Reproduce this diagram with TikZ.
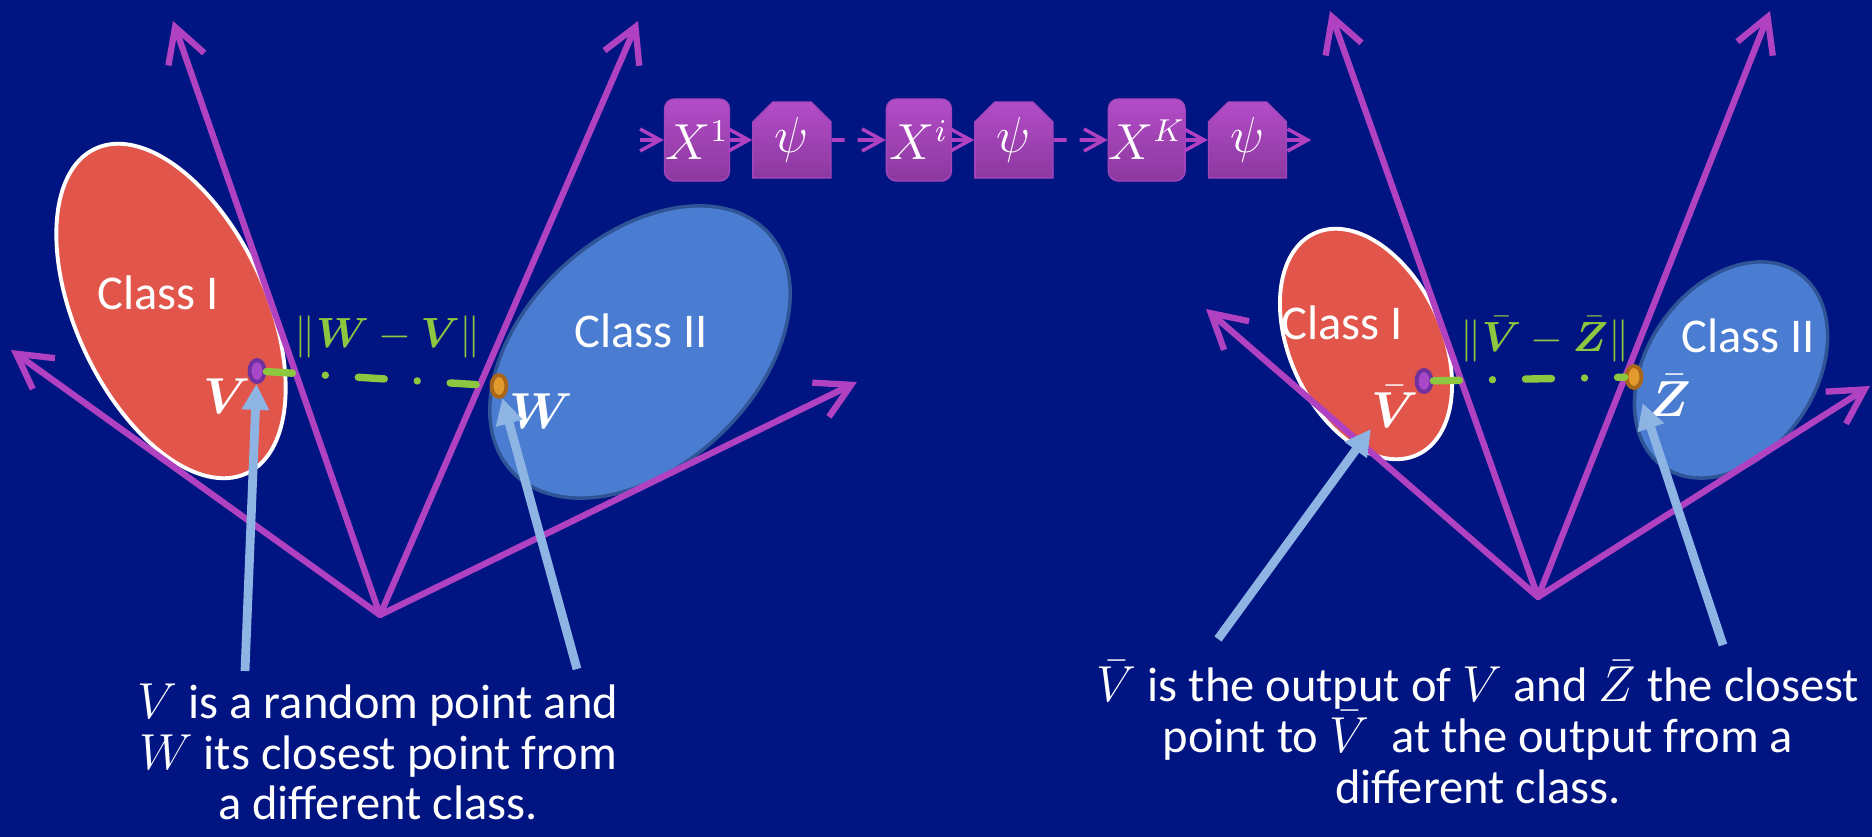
\documentclass[tikz,border=0pt]{standalone}
\usepackage{fontspec}
\setmainfont{Carlito}
\usepackage{amsmath}
\usepackage{bm}
\usetikzlibrary{arrows.meta, positioning, shapes.geometric, shapes.misc}
\definecolor{bgblue}{HTML}{001482}
\definecolor{axpurple}{HTML}{B042C2}
\definecolor{redfill}{HTML}{E2554A}
\definecolor{bluefill}{HTML}{4A7CD2}
\definecolor{blueedge}{HTML}{2F5597}
\definecolor{gapgreen}{HTML}{8DC63F}
\definecolor{ptrblue}{HTML}{8EB4E3}
\definecolor{boxtop}{HTML}{B34CC8}
\definecolor{boxbot}{HTML}{8C389F}
\definecolor{boxedge}{HTML}{A445BC}
\definecolor{vfill}{HTML}{A848C8}
\definecolor{vedge}{HTML}{7030A0}
\definecolor{wfill}{HTML}{E39A2C}
\definecolor{wedge}{HTML}{A8661A}
\tikzstyle{axis} = [line width=1.8pt, draw=axpurple, line cap=round, -{Straight Barb[length=3.4mm, width=3.8mm]}]
\tikzstyle{pointer} = [line width=2.5pt, draw=ptrblue, -{Triangle[length=2.6mm, width=2.6mm]}]
\tikzstyle{gap} = [line width=2.1pt, draw=gapgreen, line cap=round, dash pattern=on 2.6mm off 3.3mm on 0mm off 3.3mm]
\tikzstyle{flow} = [line width=1pt, draw=axpurple, -{Straight Barb[length=2mm, width=2.2mm]}]
\tikzstyle{xbox} = [rectangle, rounded corners=1mm, minimum width=6.5mm, minimum height=8.2mm, inner sep=0pt, top color=boxtop, bottom color=boxbot, draw=boxedge, font=\fontsize{13.5}{13.5}\selectfont]
\tikzstyle{psibox} = [chamfered rectangle, chamfered rectangle corners={north west, north east}, chamfered rectangle xsep=1mm, chamfered rectangle ysep=1mm, minimum width=7.8mm, minimum height=7.6mm, inner sep=0pt, top color=boxtop, bottom color=boxbot, draw=boxedge, font=\fontsize{15}{15}\selectfont]
\tikzstyle{redclass} = [fill=redfill, draw=white, line width=1.1pt]
\tikzstyle{blueclass} = [fill=bluefill, draw=blueedge, line width=1pt]
\tikzstyle{vpt} = [ellipse, minimum width=1.5mm, minimum height=2.2mm, inner sep=0pt, line width=1.1pt, draw=vedge, fill=vfill]
\tikzstyle{wpt} = [ellipse, minimum width=1.5mm, minimum height=2.2mm, inner sep=0pt, line width=1.1pt, draw=wedge, fill=wfill]
\tikzstyle{ptlabel} = [font=\fontsize{14.5}{14.5}\selectfont]
\tikzstyle{normlabel} = [text=gapgreen, font=\fontsize{12.5}{12.5}\selectfont]
\tikzstyle{caption} = [align=center, font=\fontsize{13.8}{14.4}\selectfont]

\begin{document}
\begin{tikzpicture}[x=0.01cm, y=-0.01cm, every node/.style={text=white, font=\fontsize{13.8}{14.4}\selectfont}]
  \fill[bgblue] (0,0) rectangle (1872,837);
  \useasboundingbox (0,0) rectangle (1872,837);

  % input space
  \draw[redclass, rotate around={115:(171,311)}] (171,311) ellipse [x radius=1.79cm, y radius=0.95cm];
  \draw[blueclass, rotate around={43:(640,352)}] (640,352) ellipse [x radius=1.75cm, y radius=1.15cm];
  \node (cls1) at (158,293) {Class I};
  \node (cls2) at (641,331) {Class II};

  \coordinate (o1) at (380,615);
  \coordinate (a1) at (173,21);
  \coordinate (a2) at (638,21);
  \coordinate (a3) at (11,350);
  \coordinate (a4) at (857,382);
  \foreach \t in {a1,a2,a3,a4}
    \draw[axis] (o1) -- (\t);

  \node[vpt] (v1) at (257,371) {};
  \node[wpt] (w1) at (499,386) {};
  \draw[gap] (v1) -- (w1);
  \node[normlabel] (n1) at (388,337) {$\|\bm{W}-\bm{V}\|$};
  \node[ptlabel] (vlab) at (227,396) {$\bm{V}$};
  \node[ptlabel] (wlab) at (541,411) {$\bm{W}$};

  \coordinate (p1) at (245,671);
  \coordinate (p2) at (577,669);
  \draw[pointer] (p1) -- (v1);
  \draw[pointer] (p2) -- (w1);
  \node[caption] (cap1) at (378,752) {$V$ is a random point and\\$W$ its closest point from\\a different class.};

  % network
  \coordinate (in) at (640,140);
  \node[xbox] (x1) at (697,140) {$X^1$};
  \node[psibox, right=2.2mm of x1] (psi1) {$\psi$};
  \node[xbox, right=5.4mm of psi1] (xi) {$X^i$};
  \node[psibox, right=2.2mm of xi] (psi2) {$\psi$};
  \node[xbox, right=5.4mm of psi2] (xk) {$X^K$};
  \node[psibox, right=2.2mm of xk] (psi3) {$\psi$};
  \coordinate[right=2.4mm of psi3] (out);
  \draw[flow] (in) -- (x1);
  \draw[flow] (x1) -- (psi1);
  \draw[flow, dash pattern=on 1.3mm off 1.3mm on 10mm off 0mm] (psi1) -- (xi);
  \draw[flow] (xi) -- (psi2);
  \draw[flow, dash pattern=on 1.3mm off 1.3mm on 10mm off 0mm] (psi2) -- (xk);
  \draw[flow] (xk) -- (psi3);
  \draw[flow] (psi3) -- (out);

  % output space
  \draw[redclass, rotate around={115:(1366,344)}] (1366,344) ellipse [x radius=1.22cm, y radius=0.76cm];
  \draw[blueclass, rotate around={55:(1731,370)}] (1731,370) ellipse [x radius=1.18cm, y radius=0.84cm];
  \node (cls3) at (1342,323) {Class I};
  \node (cls4) at (1748,336) {Class II};

  \coordinate (o2) at (1538,597);
  \coordinate (b1) at (1330,11);
  \coordinate (b2) at (1770,11);
  \coordinate (b3) at (1206,309);
  \coordinate (b4) at (1870,386);
  \foreach \t in {b1,b2,b3,b4}
    \draw[axis] (o2) -- (\t);

  \node[vpt] (v2) at (1424,381) {};
  \node[wpt] (z2) at (1634,377) {};
  \draw[gap] (v2) -- (z2);
  \node[normlabel] (n2) at (1545,339) {$\|\bar{\bm{V}}-\bar{\bm{Z}}\|$};
  \node[ptlabel] (vblab) at (1395,407) {$\bar{\bm{V}}$};
  \node[ptlabel] (zblab) at (1670,396) {$\bar{\bm{Z}}$};

  \coordinate (p3) at (1218,639);
  \coordinate (t3) at (1371,429);
  \coordinate (p4) at (1723,645);
  \draw[pointer] (p3) -- (t3);
  \draw[pointer, shorten >=1.5mm] (p4) -- (z2);
  \node[caption] (cap2) at (1478,732) {$\bar{V}$ is the output of $V$ and $\bar{Z}$ the closest\\point to $\bar{V}$\ \ at the output from a\\different class.};
\end{tikzpicture}
\end{document}
